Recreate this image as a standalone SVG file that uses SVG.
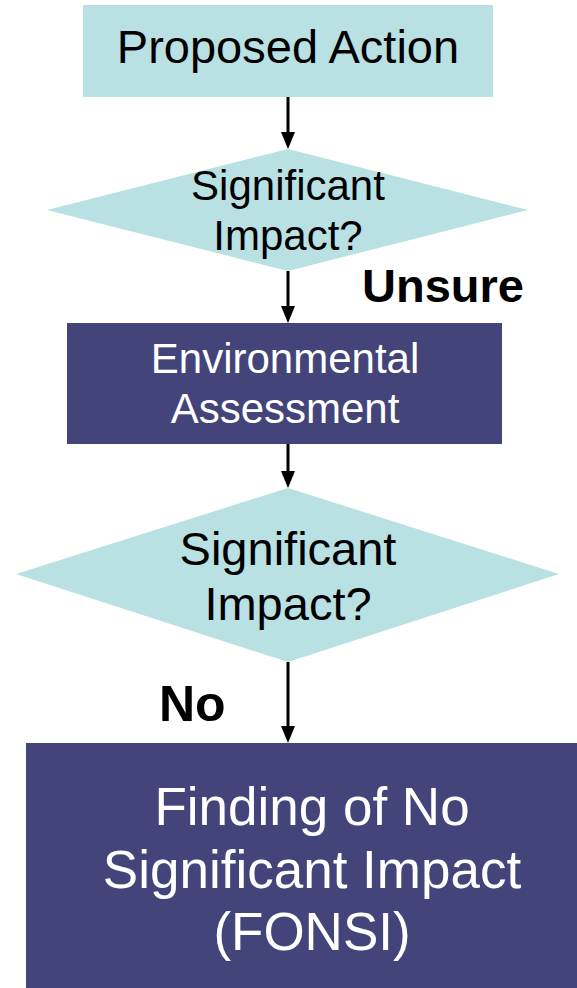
<svg xmlns="http://www.w3.org/2000/svg" width="577" height="988" viewBox="0 0 577 988">
<style>
.light{fill:#B9E0E3;}
.dark{fill:#43457A;}
.t{font-family:"Liberation Sans",Arial,sans-serif;text-anchor:middle;}
.bk{fill:#000;}
.wt{fill:#fff;}
.lbl{font-family:"Liberation Sans",Arial,sans-serif;font-weight:bold;fill:#000;}
.conn{stroke:#000;stroke-width:3;fill:none;marker-end:url(#ah);}
</style>
<defs>
<marker id="ah" markerUnits="userSpaceOnUse" markerWidth="17" markerHeight="14" refX="13" refY="7" orient="auto" viewBox="0 0 17 14">
<path d="M0,0 L17,7 L0,14 Z" fill="#000"/>
</marker>
</defs>
<rect width="577" height="988" fill="#fff"/>
<g id="n1">
<rect class="light" x="83" y="5" width="410" height="92"/>
<text class="t bk" x="288" y="63" font-size="47">Proposed Action</text>
</g>
<g id="n2">
<polygon class="light" points="288,149 528,210 288,271 47,210"/>
<text class="t bk" x="288" y="200" font-size="42">Significant</text>
<text class="t bk" x="288" y="250" font-size="42">Impact?</text>
</g>
<g id="n3">
<rect class="dark" x="67" y="323" width="435" height="121"/>
<text class="t wt" x="285" y="373" font-size="42">Environmental</text>
<text class="t wt" x="285" y="423" font-size="42">Assessment</text>
</g>
<g id="n4">
<polygon class="light" points="288,488 559,574 288,662 16,574"/>
<text class="t bk" x="288" y="565" font-size="47">Significant</text>
<text class="t bk" x="288" y="620" font-size="47">Impact?</text>
</g>
<g id="n5">
<rect class="dark" x="26" y="743" width="551" height="245"/>
<text class="t wt" x="312" y="825" font-size="53">Finding of No</text>
<text class="t wt" x="312" y="888" font-size="53">Significant Impact</text>
<text class="t wt" x="312" y="950" font-size="53">(FONSI)</text>
</g>
<g id="connectors">
<line class="conn" x1="288" y1="97" x2="288" y2="145"/>
<line class="conn" x1="288" y1="271" x2="288" y2="319"/>
<line class="conn" x1="288" y1="444" x2="288" y2="484"/>
<line class="conn" x1="288" y1="662" x2="288" y2="739"/>
<text class="lbl" x="362" y="302" font-size="47">Unsure</text>
<text class="lbl" x="159" y="721" font-size="50">No</text>
</g>
</svg>
